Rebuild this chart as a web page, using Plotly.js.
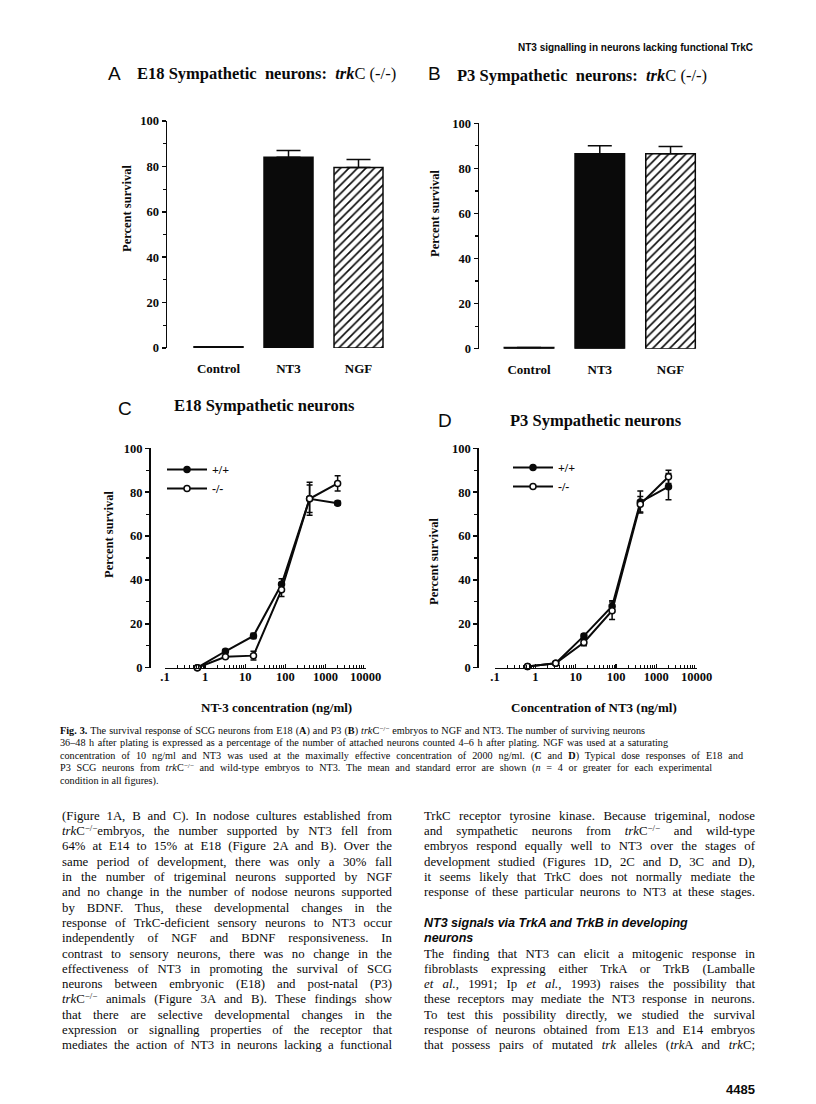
<!DOCTYPE html>
<html><head><meta charset="utf-8">
<script src="https://cdn.plot.ly/plotly-3.0.1.min.js"></script>
<style>
html,body{margin:0;padding:0;background:#fff;}
#page{position:relative;width:816px;height:1104px;overflow:hidden;background:#fff;}
#plot{position:absolute;left:0;top:0;width:816px;height:1104px;}
.t{position:absolute;white-space:nowrap;font-family:"Liberation Serif","Times New Roman",serif;color:#0a0a0a;}
.j{text-align:justify;text-align-last:justify;}
.t sup{font-size:70%;line-height:0;vertical-align:0.45em;}
.h{font-family:"Liberation Sans",Arial,sans-serif;font-weight:bold;font-style:italic;}
</style></head><body>
<div id="page"><div id="plot"></div><div id="text"></div></div>
<script>
// ---------- data ----------
const barCategories = ['Control', 'NT3', 'NGF'];
const survivalE18 = [0.5, 84, 79.5];
const errorE18 = [0, 3, 3.5];
const survivalP3 = [0.5, 86.5, 86.5];
const errorP3 = [0, 3.5, 3.2];

const nt3Conc = [0.64, 3.2, 16, 80, 400, 2000];
const e18WildType = [0, 7.5, 14.5, 38, 77, 75];
const e18WildTypeErr = [0, 0.8, 1.2, 2.5, 6.3, 1];
const e18Mutant = [0, 5, 5.5, 35.5, 77, 84];
const e18MutantErr = [0, 0.5, 2, 3, 7.5, 3.5];
const p3WildType = [0.5, 2, 14.5, 28, 75.5, 82.5];
const p3WildTypeErr = [0, 0.5, 1, 2.5, 5, 6];
const p3Mutant = [0.5, 2, 11.5, 26, 74.5, 87];
const p3MutantErr = [0, 0.5, 1.5, 4, 3.5, 3];

const seriesNames = ['+/+', '-/-'];
const logTickAlias = {'0.1': '.1', '10,000': '10000', '10k': '10000'};

// ---------- helpers ----------
const W = 816, H = 1104;
const px = x => x / W;
const py = y => 1 - y / H;
const SERIF = '"Liberation Serif","Times New Roman",serif';
const SANS = '"Liberation Sans",Arial,sans-serif';
const INK = '#0a0a0a';

// solid bars (Control, NT3) and hatched bar (NGF) as two overlaid traces
function barTraces(vals, errs, xa, ya) {
  const solid = {
    type: 'bar', x: barCategories.slice(0, 2), y: vals.slice(0, 2), xaxis: xa, yaxis: ya,
    width: 0.7, showlegend: false, hoverinfo: 'skip',
    marker: {color: INK, line: {color: INK, width: 1.5}},
    error_y: {type: 'data', symmetric: false, array: errs.slice(0, 2), arrayminus: [0, 0],
      color: INK, thickness: 1.5, width: 12}
  };
  const hatched = {
    type: 'bar', x: barCategories.slice(2), y: vals.slice(2), xaxis: xa, yaxis: ya,
    width: 0.7, showlegend: false, hoverinfo: 'skip',
    marker: {color: '#ffffff', line: {color: INK, width: 1.5},
      pattern: {shape: '/', fillmode: 'overlay', fgcolor: INK, fgopacity: 1, size: 6, solidity: 0.27}},
    error_y: {type: 'data', symmetric: false, array: errs.slice(2), arrayminus: [0],
      color: INK, thickness: 1.5, width: 12}
  };
  return [solid, hatched];
}
function lineTrace(x, y, err, filled, name, xa, ya, leg) {
  return {
    type: 'scatter', mode: 'lines+markers', x: x, y: y, xaxis: xa, yaxis: ya,
    name: name, legend: leg, cliponaxis: false, hoverinfo: 'skip',
    line: {color: INK, width: 2},
    marker: {symbol: 'circle', size: 6, color: filled ? INK : '#fff', line: {color: INK, width: 1.5}},
    error_y: {type: 'data', array: err, color: INK, thickness: 1.5, width: 3}
  };
}

const data = [].concat(
  barTraces(survivalE18, errorE18, 'x', 'y'),
  barTraces(survivalP3, errorP3, 'x2', 'y2'),
  [
    lineTrace(nt3Conc, e18WildType, e18WildTypeErr, true, seriesNames[0], 'x3', 'y3', 'legend'),
    lineTrace(nt3Conc, e18Mutant, e18MutantErr, false, seriesNames[1], 'x3', 'y3', 'legend'),
    lineTrace(nt3Conc, p3WildType, p3WildTypeErr, true, seriesNames[0], 'x4', 'y4', 'legend2'),
    lineTrace(nt3Conc, p3Mutant, p3MutantErr, false, seriesNames[1], 'x4', 'y4', 'legend2')
  ]
);

const tickFont = {family: SERIF, size: 12.5, color: INK, weight: 'bold'};
function yAxis(top, bottom, extra) {
  return Object.assign({
    domain: [py(bottom), py(top)], range: [0, 100], dtick: 20, tick0: 0,
    showline: true, linecolor: INK, linewidth: 1.5, ticks: 'outside', ticklen: 4,
    tickwidth: 1.5, tickcolor: INK, showgrid: false, zeroline: false, tickfont: tickFont,
    minor: {dtick: 10, ticks: 'outside', ticklen: 3, tickwidth: 1.2, tickcolor: INK, showgrid: false},
    fixedrange: true
  }, extra);
}
function catAxis(left, right, lo, extra) {
  return Object.assign({
    domain: [px(left), px(right)], type: 'category', range: [lo, 2.6],
    categoryorder: 'array', categoryarray: barCategories,
    showline: false, ticks: '', showgrid: false, zeroline: false,
    tickfont: {family: SERIF, size: 13, color: INK, weight: 'bold'}, ticklabelstandoff: 11,
    fixedrange: true
  }, extra);
}
function logAxis(left, right, extra) {
  return Object.assign({
    domain: [px(left), px(right)], type: 'log', range: [-1, 4], dtick: 1,
    exponentformat: 'none', separatethousands: false, labelalias: logTickAlias,
    showline: true, linecolor: INK, linewidth: 1.5, ticks: 'inside', ticklen: 4,
    tickwidth: 1.3, tickcolor: INK, showgrid: false, zeroline: false, tickfont: tickFont,
    ticklabelstandoff: -3,
    minor: {dtick: 'D1', ticks: 'inside', ticklen: 2.5, tickwidth: 1, tickcolor: INK, showgrid: false},
    fixedrange: true
  }, extra);
}

function ann(text, x, y, size, opts) {
  return Object.assign({
    text: text, xref: 'paper', yref: 'paper', x: px(x), y: py(y), showarrow: false,
    xanchor: 'left', yanchor: 'middle', font: {family: SERIF, size: size, color: INK}
  }, opts || {});
}

const annotations = [
  ann('NT3 signalling in neurons lacking functional TrkC', 755, 47, 10, {xanchor: 'right', font: {family: SANS, size: 10, color: INK, weight: 'bold'}}),
  ann('A', 106, 73, 19, {font: {family: SANS, size: 19, color: INK}}),
  ann('<b>E18 Sympathetic&nbsp; neurons:&nbsp; <i>trk</i></b>C (-/-)', 135, 74, 16.5),
  ann('B', 426, 73, 19, {font: {family: SANS, size: 19, color: INK}}),
  ann('<b>P3 Sympathetic&nbsp; neurons:&nbsp; <i>trk</i></b>C (-/-)', 455, 75, 16.5),
  ann('C', 116, 408, 19, {font: {family: SANS, size: 19, color: INK}}),
  ann('<b>E18 Sympathetic neurons</b>', 264, 405, 16.5, {xanchor: 'center'}),
  ann('D', 436, 421, 19, {font: {family: SANS, size: 19, color: INK}}),
  ann('<b>P3 Sympathetic neurons</b>', 596, 421, 16.5, {xanchor: 'center'}),
  ann('<b>Percent survival</b>', 127, 209, 12.5, {xanchor: 'center', textangle: -90}),
  ann('<b>Percent survival</b>', 435, 214, 12.5, {xanchor: 'center', textangle: -90}),
  ann('<b>Percent survival</b>', 109, 535, 12.5, {xanchor: 'center', textangle: -90}),
  ann('<b>Percent survival</b>', 434, 562, 12.5, {xanchor: 'center', textangle: -90}),
  ann('<b>NT-3 concentration (ng/ml)</b>', 276, 707, 13, {xanchor: 'center'}),
  ann('<b>Concentration of NT3 (ng/ml)</b>', 594, 707, 13, {xanchor: 'center'})
];

const legendStyle = {
  xanchor: 'left', yanchor: 'top', bgcolor: 'rgba(0,0,0,0)', borderwidth: 0,
  font: {family: SERIF, size: 12, color: INK, weight: 'bold'}, itemwidth: 40, tracegroupgap: 0,
  traceorder: 'normal'
};

const layout = {
  width: W, height: H, margin: {l: 0, r: 0, t: 0, b: 0},
  paper_bgcolor: '#fff', plot_bgcolor: 'rgba(0,0,0,0)',
  showlegend: true, barmode: 'overlay', separators: '.',
  xaxis: catAxis(167, 400.5, -0.736, {anchor: 'y'}),
  yaxis: yAxis(121, 348, {anchor: 'x'}),
  xaxis2: catAxis(479, 713, -0.707, {anchor: 'y2'}),
  yaxis2: yAxis(123.3, 348.7, {anchor: 'x2'}),
  xaxis3: logAxis(165, 365.7, {anchor: 'y3'}),
  yaxis3: yAxis(448.3, 667.7, {anchor: 'free', position: px(149)}),
  xaxis4: logAxis(495, 696.7, {anchor: 'y4'}),
  yaxis4: yAxis(448.3, 667.7, {anchor: 'free', position: px(477.3)}),
  legend: Object.assign({x: px(162), y: py(455)}, legendStyle),
  legend2: Object.assign({x: px(508), y: py(453)}, legendStyle),
  annotations: annotations
};

Plotly.newPlot('plot', data, layout, {staticPlot: true, displayModeBar: false});

// ---------- page text ----------
const captionLines = [
  '<b>Fig. 3.</b> The survival response of SCG neurons from E18 (<b>A</b>) and P3 (<b>B</b>) <i>trk</i>C<sup>−/−</sup> embryos to NGF and NT3. The number of surviving neurons',
  '36–48 h after plating is expressed as a percentage of the number of attached neurons counted 4–6 h after plating. NGF was used at a saturating',
  'concentration of 10 ng/ml and NT3 was used at the maximally effective concentration of 2000 ng/ml. (<b>C</b> and <b>D</b>) Typical dose responses of E18 and',
  'P3 SCG neurons from <i>trk</i>C<sup>−/−</sup> and wild-type embryos to NT3. The mean and standard error are shown (<i>n</i> = 4 or greater for each experimental',
  'condition in all figures).'
];
const captionEnds = [645, 668, 743, 712, null];

const leftColumn = [
  '(Figure 1A, B and C). In nodose cultures established from',
  '<i>trk</i>C<sup>−/−</sup>embryos, the number supported by NT3 fell from',
  '64% at E14 to 15% at E18 (Figure 2A and B). Over the',
  'same period of development, there was only a 30% fall',
  'in the number of trigeminal neurons supported by NGF',
  'and no change in the number of nodose neurons supported',
  'by BDNF. Thus, these developmental changes in the',
  'response of TrkC-deficient sensory neurons to NT3 occur',
  'independently of NGF and BDNF responsiveness. In',
  'contrast to sensory neurons, there was no change in the',
  'effectiveness of NT3 in promoting the survival of SCG',
  'neurons between embryonic (E18) and post-natal (P3)',
  '<i>trk</i>C<sup>−/−</sup> animals (Figure 3A and B). These findings show',
  'that there are selective developmental changes in the',
  'expression or signalling properties of the receptor that',
  'mediates the action of NT3 in neurons lacking a functional'
];
const rightColumn = [
  'TrkC receptor tyrosine kinase. Because trigeminal, nodose',
  'and sympathetic neurons from <i>trk</i>C<sup>−/−</sup> and wild-type',
  'embryos respond equally well to NT3 over the stages of',
  'development studied (Figures 1D, 2C and D, 3C and D),',
  'it seems likely that TrkC does not normally mediate the',
  'response of these particular neurons to NT3 at these stages.',
  '',
  '#NT3 signals via TrkA and TrkB in developing',
  '#neurons',
  'The finding that NT3 can elicit a mitogenic response in',
  'fibroblasts expressing either TrkA or TrkB (Lamballe',
  '<i>et al.</i>, 1991; Ip <i>et al.</i>, 1993) raises the possibility that',
  'these receptors may mediate the NT3 response in neurons.',
  'To test this possibility directly, we studied the survival',
  'response of neurons obtained from E13 and E14 embryos',
  'that possess pairs of mutated <i>trk</i> alleles (<i>trk</i>A and <i>trk</i>C;'
];

const box = document.getElementById('text');
function line(html, left, centerY, size, lh, width, cls) {
  const d = document.createElement('div');
  d.className = 't' + (cls ? ' ' + cls : '');
  d.style.left = left + 'px';
  d.style.top = (centerY - lh / 2) + 'px';
  d.style.fontSize = size + 'px';
  d.style.lineHeight = lh + 'px';
  if (width) d.style.width = width + 'px';
  d.innerHTML = html;
  box.appendChild(d);
}
const CAP_X = 60, CAP_Y = 731, CAP_LH = 12.5;
captionLines.forEach((s, i) => {
  const end = captionEnds[i];
  line(s, CAP_X, CAP_Y + i * CAP_LH, 10.2, CAP_LH, end ? end - CAP_X : null, end ? 'j' : '');
});
const BODY_Y = 816.5, BODY_LH = 15.3;
leftColumn.forEach((s, i) => line(s, 62, BODY_Y + i * BODY_LH, 12.8, BODY_LH, 330, 'j'));
rightColumn.forEach((s, i) => {
  if (!s) return;
  if (s[0] === '#') {
    line(s.slice(1), 424, BODY_Y + i * BODY_LH, 12.5, BODY_LH, null, 'h');
  } else {
    line(s, 424, BODY_Y + i * BODY_LH, 12.8, BODY_LH, 331, 'j');
  }
});
const pg = document.createElement('div');
pg.className = 't';
pg.style.cssText = 'right:61px;top:1082px;font-family:"Liberation Sans",Arial,sans-serif;font-weight:bold;font-size:13px;line-height:16px;';
pg.textContent = '4485';
box.appendChild(pg);
</script>
</body></html>
